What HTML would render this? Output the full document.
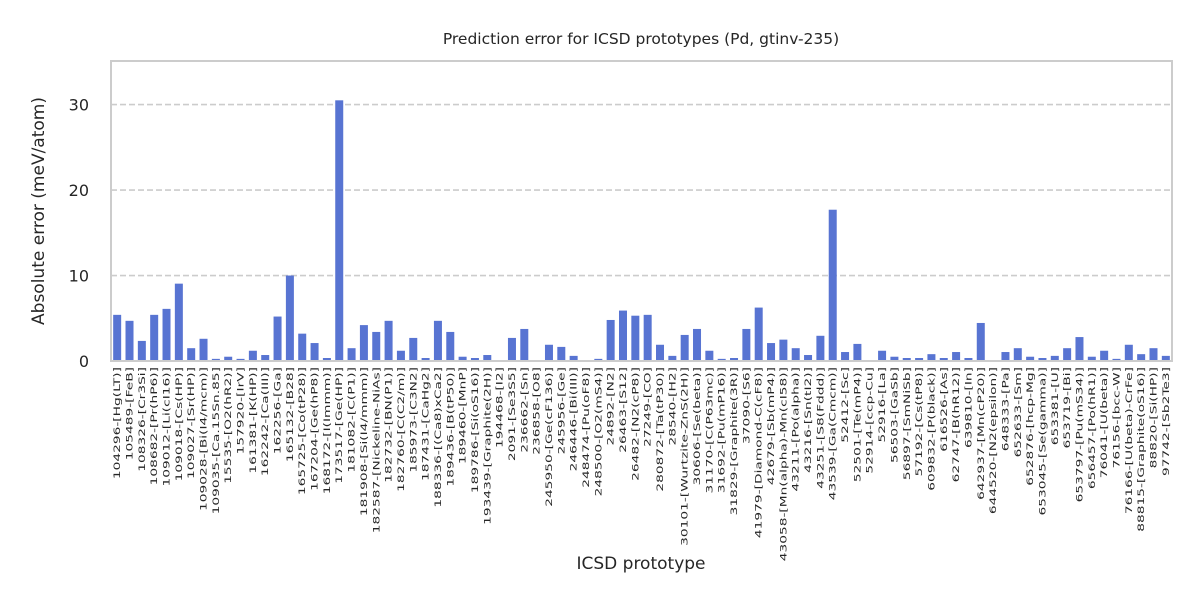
<!DOCTYPE html>
<html><head><meta charset="utf-8"><style>
body{margin:0;background:#fff;}
svg text{font-family:"DejaVu Sans","Liberation Sans",sans-serif;fill:#262626;}
</style></head><body>
<svg id="chart" width="1200" height="600" xmlns="http://www.w3.org/2000/svg">
<rect width="1200" height="600" fill="#fff"/>
<text x="641" y="44" font-size="15.5" text-anchor="middle">Prediction error for ICSD prototypes (Pd, gtinv-235)</text>
<text transform="translate(44,211) rotate(-90)" font-size="17" text-anchor="middle">Absolute error (meV/atom)</text>
<text x="641" y="569" font-size="17" text-anchor="middle">ICSD prototype</text>
<g id="grid"></g><g id="bars"></g><g id="yticks"></g><g id="xticks"></g>
<rect x="111" y="61" width="1061" height="300" fill="none" stroke="#cccccc" stroke-width="2"/>
</svg>
<script>
const categories=["104296-[Hg(LT)]","105489-[FeB]","108326-[Cr3Si]","108682-[Pr(hP6)]","109012-[Li(cI16)]","109018-[Cs(HP)]","109027-[Sr(HP)]","109028-[Bi(I4/mcm)]","109035-[Ca.15Sn.85]","15535-[O2(hR2)]","157920-[IrV]","161381-[K(HP)]","162242-[Ca(III)]","162256-[Ga]","165132-[B28]","165725-[Co(tP28)]","167204-[Ge(hP8)]","168172-[I(Immm)]","173517-[Ge(HP)]","181082-[C(P1)]","181908-[Si(I4/mmm)]","182587-[Nickeline-NiAs]","182732-[BN(P1)]","182760-[C(C2/m)]","185973-[C3N2]","187431-[CaHg2]","188336-[(Ca8)xCa2]","189436-[B(tP50)]","189460-[MnP]","189786-[Si(oS16)]","193439-[Graphite(2H)]","194468-[I2]","2091-[Se3S5]","236662-[Sn]","236858-[O8]","245950-[Ge(cF136)]","245956-[Ge]","246446-[Bi(III)]","248474-[Pu(oF8)]","248500-[O2(mS4)]","24892-[N2]","26463-[S12]","26482-[N2(cP8)]","27249-[CO]","280872-[Ta(tP30)]","28540-[H2]","30101-[Wurtzite-ZnS(2H)]","30606-[Se(beta)]","31170-[C(P63mc)]","31692-[Pu(mP16)]","31829-[Graphite(3R)]","37090-[S6]","41979-[Diamond-C(cF8)]","42679-[Sb(mP4)]","43058-[Mn(alpha)-Mn(cI58)]","43211-[Po(alpha)]","43216-[Sn(tI2)]","43251-[S8(Fddd)]","43539-[Ga(Cmcm)]","52412-[Sc]","52501-[Te(mP4)]","52914-[ccp-Cu]","52916-[La]","56503-[GaSb]","56897-[SmNiSb]","57192-[Cs(tP8)]","609832-[P(black)]","616526-[As]","62747-[B(hR12)]","639810-[In]","642937-[Mn(cP20)]","644520-[N2(epsilon)]","648333-[Pa]","652633-[Sm]","652876-[hcp-Mg]","653045-[Se(gamma)]","653381-[U]","653719-[Bi]","653797-[Pu(mS34)]","656457-[Po(hR1)]","76041-[U(beta)]","76156-[bcc-W]","76166-[U(beta)-CrFe]","88815-[Graphite(oS16)]","88820-[Si(HP)]","97742-[Sb2Te3]"];
const errors=[5.4,4.7,2.35,5.4,6.1,9.05,1.5,2.6,0.25,0.5,0.25,1.2,0.7,5.2,10.0,3.2,2.1,0.35,30.5,1.5,4.2,3.4,4.7,1.2,2.7,0.35,4.7,3.4,0.5,0.35,0.7,0.02,2.7,3.75,0.03,1.9,1.65,0.6,0.1,0.25,4.8,5.9,5.3,5.4,1.9,0.6,3.05,3.75,1.2,0.25,0.35,3.75,6.25,2.1,2.5,1.5,0.7,2.95,17.7,1.05,2.0,0.04,1.2,0.5,0.35,0.35,0.8,0.35,1.05,0.35,4.45,0.1,1.05,1.5,0.5,0.35,0.6,1.5,2.8,0.5,1.2,0.25,1.9,0.8,1.5,0.6];
const yTicks=[0,10,20,30];
const X0=111,X1=1172,Y0=361,Y1=61,YMAX=35.1;
const step=(X1-X0)/categories.length;
const xc=i=>X0+step*(i+0.5);
const y=v=>Y0-(v/YMAX)*(Y0-Y1);
const NS="http://www.w3.org/2000/svg";
const G=id=>document.getElementById(id);
yTicks.forEach(t=>{
  if(t>0){const l=document.createElementNS(NS,"line");
  
  
  l.setAttribute("x1",X0);l.setAttribute("x2",X1);l.setAttribute("y1",y(t));l.setAttribute("y2",y(t));
  l.setAttribute("stroke","#cccccc");l.setAttribute("stroke-width","1.6");l.setAttribute("stroke-dasharray","6,3");
  G("grid").appendChild(l);}
  const tx=document.createElementNS(NS,"text");
  
  
  tx.setAttribute("x",89);tx.setAttribute("y",y(t)+6);tx.setAttribute("font-size","16");tx.setAttribute("text-anchor","end");
  tx.textContent=t;G("yticks").appendChild(tx);
});
categories.forEach((c,i)=>{
  const r=document.createElementNS(NS,"rect");
  
  
  const bw=8;
  r.setAttribute("x",xc(i)-bw/2);r.setAttribute("width",bw);
  r.setAttribute("y",y(errors[i]));r.setAttribute("height",Math.max(0,Y0-y(errors[i])));
  r.setAttribute("fill","#5874d2");
  G("bars").appendChild(r);
  const t=document.createElementNS(NS,"text");
  
  
  t.setAttribute("transform",`translate(${xc(i)+3},367) rotate(-90) scale(1.6,1)`);
  t.setAttribute("font-size","8.6");t.setAttribute("text-anchor","end");
  t.textContent=c;G("xticks").appendChild(t);
});
</script>
</body></html>
